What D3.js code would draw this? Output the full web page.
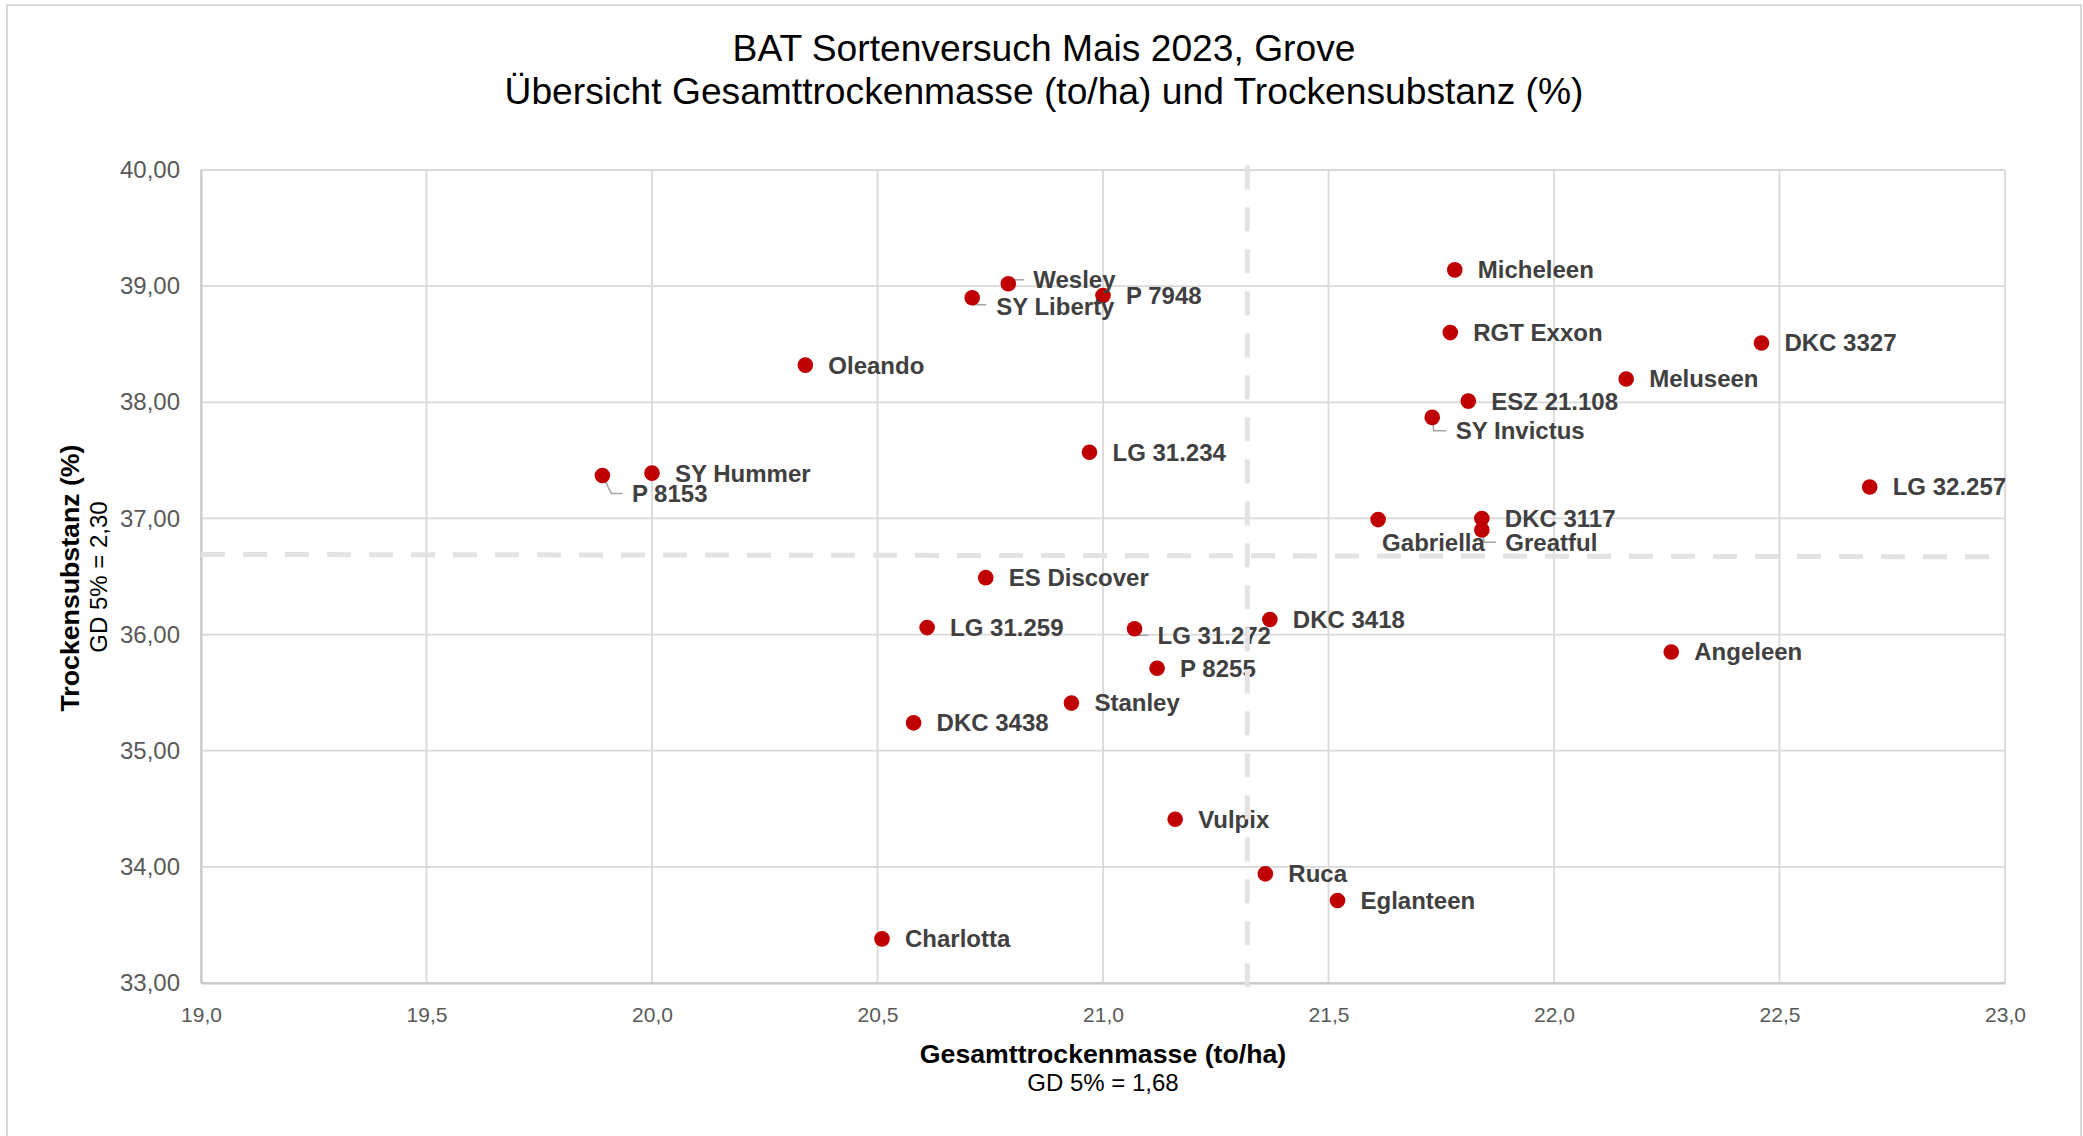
<!DOCTYPE html>
<html>
<head>
<meta charset="utf-8">
<script src="https://cdn.jsdelivr.net/npm/d3@7"></script>
<style>
  body { margin: 0; background: #fff; }
  svg text { font-family: "Liberation Sans", Arial, sans-serif; }
</style>
</head>
<body>
<script>
// data
var sorten = ["Micheleen", "Wesley", "P 7948", "SY Liberty", "RGT Exxon", "DKC 3327", "Oleando",
  "Meluseen", "ESZ 21.108", "SY Invictus", "LG 31.234", "SY Hummer", "P 8153", "LG 32.257",
  "DKC 3117", "Gabriella", "Greatful", "ES Discover", "DKC 3418", "LG 31.259", "LG 31.272",
  "Angeleen", "P 8255", "Stanley", "DKC 3438", "Vulpix", "Ruca", "Eglanteen", "Charlotta"]
var gesamtTM = [21.78, 20.79, 21.00, 20.71, 21.77, 22.46, 20.34,
  22.16, 21.81, 21.73, 20.97, 20.00, 19.89, 22.70,
  21.84, 21.61, 21.84, 20.74, 21.37, 20.61, 21.07,
  22.26, 21.12, 20.93, 20.58, 21.16, 21.36, 21.52, 20.51]
var trockenS = [39.14, 39.02, 38.92, 38.90, 38.60, 38.51, 38.32,
  38.20, 38.01, 37.87, 37.57, 37.39, 37.37, 37.27,
  37.00, 36.99, 36.90, 36.49, 36.13, 36.06, 36.05,
  35.85, 35.71, 35.41, 35.24, 34.41, 33.94, 33.71, 33.38]

var xTicks = [19.0, 19.5, 20.0, 20.5, 21.0, 21.5, 22.0, 22.5, 23.0]
var yTicks = [33, 34, 35, 36, 37, 38, 39, 40]

// GD reference lines
var gdX = [21.32, 21.32]
var gdXy = [40.04, 32.96]
var gdY = [36.69, 36.67]
var gdYx = [19.0, 22.97]

var titleLines = ["BAT Sortenversuch Mais 2023, Grove",
  "Übersicht Gesamttrockenmasse (to/ha) und Trockensubstanz (%)"]

var width = 2083, height = 1136
var margin = { left: 201, right: 78, top: 170, bottom: 153 }

var de = d3.formatLocale({ decimal: ",", thousands: ".", grouping: [3], currency: ["", "€"] })

var x = d3.scaleLinear().domain([19, 23]).range([margin.left, width - margin.right])
var y = d3.scaleLinear().domain([33, 40]).range([height - margin.bottom, margin.top])

var svg = d3.select("body").append("svg")
  .attr("width", width)
  .attr("height", height)

// outer chart border
svg.append("rect")
  .attr("x", 7).attr("y", 5)
  .attr("width", 2074).attr("height", 1140)
  .attr("fill", "none")
  .attr("stroke", "#d9d9d9")
  .attr("stroke-width", 2)

//title
svg.append("g").selectAll("text")
  .data(titleLines)
  .join("text")
  .attr("x", 1044)
  .attr("y", (d, i) => 61 + i * 42.5)
  .attr("text-anchor", "middle")
  .attr("font-size", 37.2)
  .attr("fill", "#000")
  .text(d => d)

//gridlines
svg.append("g").selectAll("line")
  .data(xTicks)
  .join("line")
  .attr("x1", d => x(d)).attr("x2", d => x(d))
  .attr("y1", y(40)).attr("y2", y(33))
  .attr("stroke", "#d9d9d9")
  .attr("stroke-width", 1.8)

svg.append("g").selectAll("line")
  .data(yTicks)
  .join("line")
  .attr("x1", x(19)).attr("x2", x(23))
  .attr("y1", d => y(d)).attr("y2", d => y(d))
  .attr("stroke", "#d9d9d9")
  .attr("stroke-width", 1.8)

//axes
var yAxis = svg.append("g")
  .attr("transform", `translate(${margin.left},0)`)
  .call(d3.axisLeft(y).tickValues(yTicks).tickSize(0).tickPadding(21).tickFormat(de.format(".2f")))
yAxis.select(".domain").attr("stroke", "#c8c8c8").attr("stroke-width", 2)
yAxis.selectAll(".tick text")
  .attr("font-size", 24)
  .attr("fill", "#595959")
  .style("font-family", "'Liberation Sans', Arial, sans-serif")

var xAxis = svg.append("g")
  .attr("transform", `translate(0,${height - margin.bottom})`)
  .call(d3.axisBottom(x).tickValues(xTicks).tickSize(0).tickPadding(24.5).tickFormat(de.format(".1f")))
xAxis.select(".domain").attr("stroke", "#c8c8c8").attr("stroke-width", 2)
xAxis.selectAll(".tick text")
  .attr("font-size", 21)
  .attr("fill", "#595959")
  .style("font-family", "'Liberation Sans', Arial, sans-serif")

//axis titles
svg.append("text")
  .attr("x", 1103).attr("y", 1063)
  .attr("text-anchor", "middle")
  .attr("font-size", 26.7)
  .attr("font-weight", "bold")
  .attr("fill", "#000")
  .text("Gesamttrockenmasse (to/ha)")
svg.append("text")
  .attr("x", 1103).attr("y", 1091)
  .attr("text-anchor", "middle")
  .attr("font-size", 24)
  .attr("fill", "#000")
  .text("GD 5% = 1,68")

svg.append("text")
  .attr("transform", "translate(79,578) rotate(-90)")
  .attr("text-anchor", "middle")
  .attr("font-size", 26.7)
  .attr("font-weight", "bold")
  .attr("fill", "#000")
  .text("Trockensubstanz (%)")
svg.append("text")
  .attr("transform", "translate(107,577) rotate(-90)")
  .attr("text-anchor", "middle")
  .attr("font-size", 24)
  .attr("fill", "#000")
  .text("GD 5% = 2,30")

var points = sorten.map((s, i) => ({ name: s, tm: gesamtTM[i], ts: trockenS[i] }))

// label placement, offsets in px from dot centre; lead = elbow of leader line
var nudge = {
  "Wesley": { dx: 25, dy: -4, lead: [[2, -4], [16, -4]] },
  "SY Liberty": { dx: 24, dy: 8.5, lead: [[0, 7], [14, 7]] },
  "P 8153": { dx: 29.5, dy: 18.5, lead: [[9, 18], [20, 18]] },
  "LG 31.272": { dx: 23, dy: 7, lead: [[4, 6.5], [14, 6.5]] },
  "SY Invictus": { dx: 23.5, dy: 13.5, lead: [[1.5, 13.4], [14, 13.4]] },
  "Gabriella": { dx: 4, dy: 22.6 },
  "Greatful": { dx: 23.5, dy: 13, lead: [[2.3, 12.3], [14, 12.3]] }
}

//leader lines
svg.append("g").selectAll("path")
  .data(points.filter(d => nudge[d.name] && nudge[d.name].lead))
  .join("path")
  .attr("d", function (d) {
    var cx = x(d.tm), cy = y(d.ts), l = nudge[d.name].lead
    return d3.line()([[cx, cy], [cx + l[0][0], cy + l[0][1]], [cx + l[1][0], cy + l[1][1]]])
  })
  .attr("fill", "none")
  .attr("stroke", "#a6a6a6")
  .attr("stroke-width", 1.5)

//dots
svg.append("g").selectAll("circle")
  .data(points)
  .join("circle")
  .attr("cx", d => x(d.tm))
  .attr("cy", d => y(d.ts))
  .attr("r", 7.8)
  .attr("fill", "#c00000")

//labels
svg.append("g").selectAll("text")
  .data(points)
  .join("text")
  .attr("x", d => x(d.tm) + (nudge[d.name] ? nudge[d.name].dx : 23))
  .attr("y", d => y(d.ts) + (nudge[d.name] ? nudge[d.name].dy : 0) + 8.4)
  .attr("font-size", 24)
  .attr("font-weight", "bold")
  .attr("fill", "#404040")
  .text(d => d.name)

//GD dashed lines
svg.append("line")
  .attr("x1", x(gdX[0])).attr("x2", x(gdX[1]))
  .attr("y1", y(gdXy[0])).attr("y2", y(gdXy[1]))
  .attr("stroke", "#e3e3e3")
  .attr("stroke-width", 5)
  .attr("stroke-dasharray", "24,18")
svg.append("line")
  .attr("x1", x(gdYx[0])).attr("x2", x(gdYx[1]))
  .attr("y1", y(gdY[0])).attr("y2", y(gdY[1]))
  .attr("stroke", "#e3e3e3")
  .attr("stroke-width", 5)
  .attr("stroke-dasharray", "24,18")
</script>
</body>
</html>
